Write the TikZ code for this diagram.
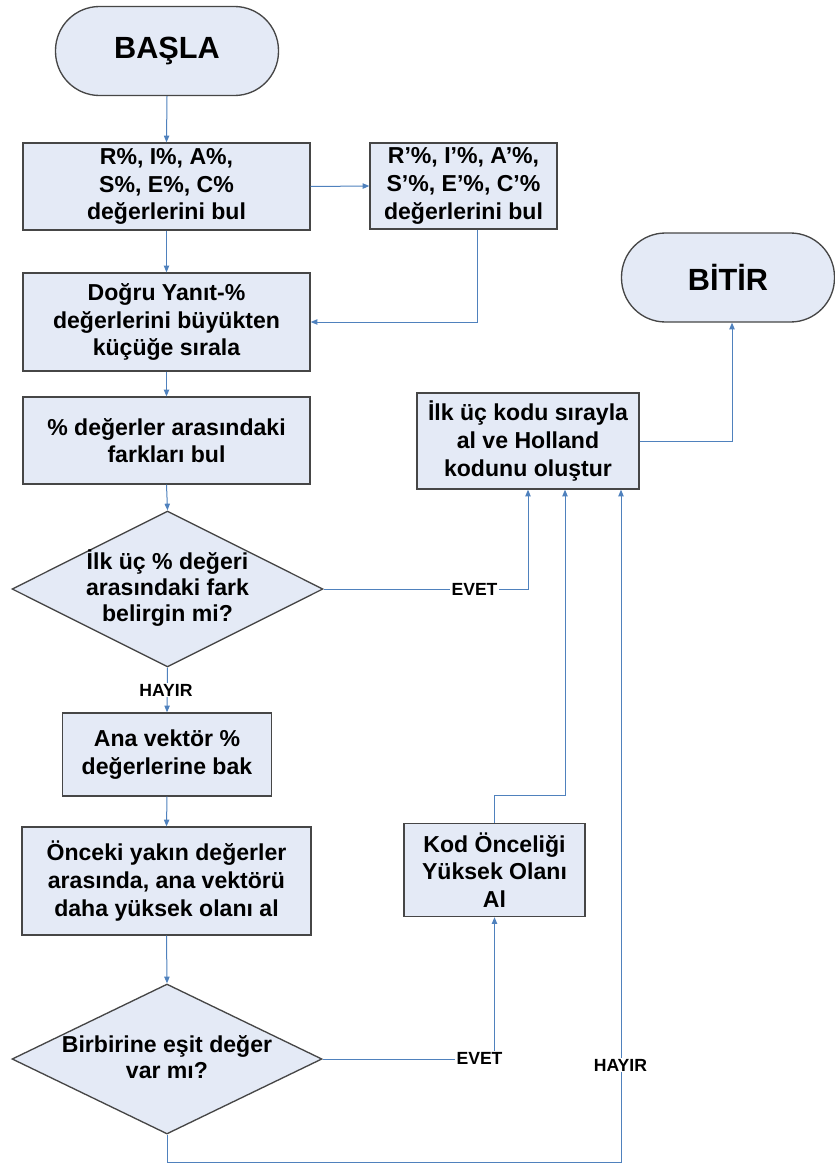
\documentclass[tikz,border=0pt]{standalone}
\usepackage{fontspec}
\setmainfont{Liberation Sans}
\usetikzlibrary{arrows.meta,calc,shapes.geometric}
\definecolor{boxfill}{RGB}{228,234,246}
\definecolor{boxline}{RGB}{70,70,70}
\definecolor{conn}{RGB}{79,129,189}
\tikzset{
  stepbox/.style={draw=boxline, line width=1pt, fill=boxfill, inner sep=0pt},
  termbox/.style={stepbox, rounded corners=33pt},
  decbox/.style={draw=boxline, line width=1pt, fill=boxfill, diamond, inner sep=0pt},
  txt/.style={align=center, font=\bfseries\fontsize{17.3pt}{20.8pt}\selectfont, inner sep=0pt},
  dtxt/.style={align=center, font=\bfseries\fontsize{17.3pt}{19.6pt}\selectfont, inner sep=0pt},
  bigtxt/.style={font=\bfseries\fontsize{23pt}{26pt}\selectfont, inner sep=0pt},
  lbl/.style={font=\bfseries\fontsize{13.2pt}{15pt}\selectfont, fill=white, inner sep=1pt},
  conn/.style={draw=conn, line width=0.75pt},
  arr/.style={conn, -{Triangle[length=5pt,width=4pt]}}
}
\begin{document}
\begin{tikzpicture}[x=0.75pt,y=-0.75pt]
\useasboundingbox (0,0) rectangle (835,1167);
% nodes
\node[termbox, minimum width=167.25pt, minimum height=66.75pt] (basla) at (167,51) {};
\node[bigtxt] (baslat) at (167,51) {BAŞLA};
\node[stepbox, minimum width=215.25pt, minimum height=65.25pt] (box1) at (166.5,186.5) {};
\node[txt] (box1t) at (166.5,186.5) {R\%, I\%, A\%,\\S\%, E\%, C\%\\değerlerini bul};
\node[stepbox, minimum width=140.25pt, minimum height=64.5pt] (box2) at (463.5,186) {};
\node[txt] (box2t) at (463.5,186) {R’\%, I’\%, A’\%,\\S’\%, E’\%, C’\%\\değerlerini bul};
\node[stepbox, minimum width=215.25pt, minimum height=73.5pt] (box3) at (166.5,322) {};
\node[txt] (box3t) at (166.5,322) {Doğru Yanıt-\%\\değerlerini büyükten\\küçüğe sırala};
\node[stepbox, minimum width=215.25pt, minimum height=65.25pt] (box4) at (166.5,440.5) {};
\node[txt] (box4t) at (166.5,440.5) {\% değerler arasındaki\\farkları bul};
\node[stepbox, minimum width=166.5pt, minimum height=72pt] (box5) at (528,441) {};
\node[txt] (box5t) at (528,441) {İlk üç kodu sırayla\\al ve Holland\\kodunu oluştur};
\node[termbox, minimum width=159.75pt, minimum height=66.75pt] (bitir) at (728,277.5) {};
\node[bigtxt] (bitirt) at (728,277.5) {BİTİR};
\node[decbox, minimum width=233.25pt, minimum height=117pt] (dia1) at (167.5,589) {};
\node[dtxt] (dia1t) at (167.5,588) {İlk üç \% değeri\\arasındaki fark\\belirgin mi?};
\node[stepbox, minimum width=156.75pt, minimum height=62.25pt] (box6) at (167,754.5) {};
\node[txt] (box6t) at (167,754.5) {Ana vektör \%\\değerlerine bak};
\node[stepbox, minimum width=216.75pt, minimum height=81pt] (box7) at (166.5,881) {};
\node[txt] (box7t) at (166.5,881) {Önceki yakın değerler\\arasında, ana vektörü\\daha yüksek olanı al};
\node[stepbox, minimum width=135.75pt, minimum height=69.75pt] (box8) at (494.5,870) {};
\node[txt] (box8t) at (494.5,870) {Kod Önceliği\\Yüksek Olanı\\Al};
\node[decbox, minimum width=232.5pt, minimum height=112.5pt] (dia2) at (167,1059) {};
\node[dtxt] (dia2t) at (167,1057) {Birbirine eşit değer\\var mı?};
% connectors
\draw[arr] (basla.south) -- (box1.north);
\draw[arr] (box1.east) -- (box2.west);
\draw[arr] (box1.south) -- (box3.north);
\draw[arr] ($(box2.south)+(14,0)$) |- (box3.east);
\draw[arr] (box3.south) -- (box4.north);
\draw[arr] (box4.south) -- (dia1.north);
\draw[arr] (dia1.east) -| (box5.south);
\draw[arr] (dia1.south) -- (box6.north);
\draw[arr] (box6.south) -- (box7.north);
\draw[arr] (box7.south) -- (dia2.north);
\draw[arr] (dia2.east) -| (box8.south);
\draw[arr] (box8.north) -- ++(0,-27) -| ($(box5.south)+(37,0)$);
\draw[arr] (dia2.south) -- ++(0,28) -| ($(box5.south)+(93,0)$);
\draw[arr] (box5.east) -| ($(bitir.south)+(4,0)$);
% labels
\node[lbl] (evet1) at (474.5,589) {EVET};
\node[lbl] (hayir1) at (166,690) {HAYIR};
\node[lbl] (evet2) at (479.5,1058) {EVET};
\node[lbl] (hayir2) at (620.5,1065) {HAYIR};
\end{tikzpicture}
\end{document}
